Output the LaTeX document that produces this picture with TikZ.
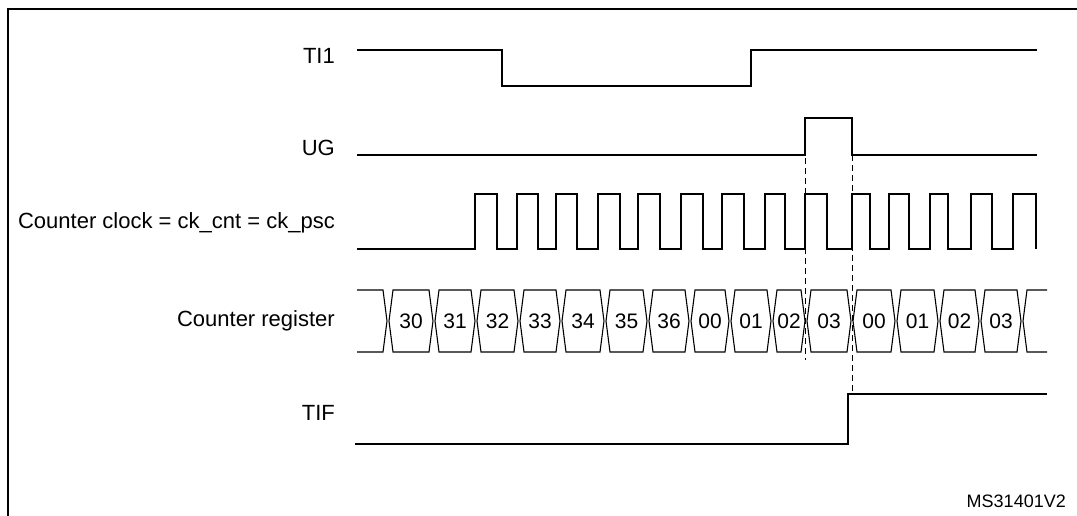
\documentclass[tikz,border=0pt]{standalone}
\usepackage{fontspec}
\setmainfont{Liberation Sans}
\begin{document}
\begin{tikzpicture}[x=1pt,y=-1pt,
  sig/.style={line width=1.1pt},
  lbl/.style={anchor=east,font=\fontsize{22}{24}\selectfont,inner sep=0pt},
  val/.style={font=\fontsize{21}{24}\selectfont,inner sep=0pt},
  guide/.style={line width=1pt,dash pattern=on 6pt off 4pt}]
\useasboundingbox (0,0) rectangle (1077,515);
\draw[line width=1.8pt] (8,525) -- (8,9) -- (1090,9);
% labels
\node[lbl] (l1) at (335,56) {TI1};
\node[lbl] (l2) at (335,148) {UG};
\node[lbl] (l3) at (335,223) {Counter clock = ck\_cnt = ck\_psc};
\node[lbl] (l4) at (335,321) {Counter register};
\node[lbl] (l5) at (335,413) {TIF};
\node[anchor=south east,inner sep=0pt,font=\fontsize{18}{20}\selectfont] (ms) at (1066,508) {MS31401V2};
% TI1
\draw[sig] (357,50) -- (502,50) -- (502,86) -- (751,86) -- (751,50) -- (1037,50);
% UG
\draw[sig] (357,155) -- (805,155) -- (805,118) -- (852,118) -- (852,155) -- (1037,155);
% clock
\def\lo{249}\def\hi{194}
\draw[sig] (357,\lo)
  \foreach \r/\f in {475/497,517/538,556/577,598/620,638/660,681/703,722/744,765/785,805/827,852/870,889/909,930/948,971/992}
   { -- (\r,\lo) -- (\r,\hi) -- (\f,\hi) -- (\f,\lo) }
  -- (1013,\lo) -- (1013,\hi) -- (1036,\hi) -- (1036,\lo);
% counter register
\def\tp{290}\def\bt{352}\def\md{321}\def\d{5}
\draw[sig] (357,\tp) -- (383,\tp) -- (387,\md) -- (383,\bt) -- (357,\bt);
\foreach \a/\b/\v in {388/434/30,434/476/31,476/519/32,519/561/33,561/605/34,605/648/35,648/690/36,690/730/00,730/772/01,772/806/02,806/852/03,852/896/00,896/939/01,939/980/02,980/1022/03}{
  \draw[sig] (\a+\d,\tp) -- (\b-\d,\tp) -- (\b-1,\md) -- (\b-\d,\bt) -- (\a+\d,\bt) -- (\a+1,\md) -- cycle;
  \node[val] (c\a) at ({(\a+\b)/2},\md) {\v};
}
\draw[sig] (1047,\tp) -- (1027,\tp) -- (1023,\md) -- (1027,\bt) -- (1047,\bt);
% TIF
\draw[sig] (355,444) -- (848,444) -- (848,394) -- (1047,394);
% guides
\draw[guide] (805,118) -- (805,360);
\draw[guide] (852,155) -- (852,394);
\end{tikzpicture}
\end{document}
